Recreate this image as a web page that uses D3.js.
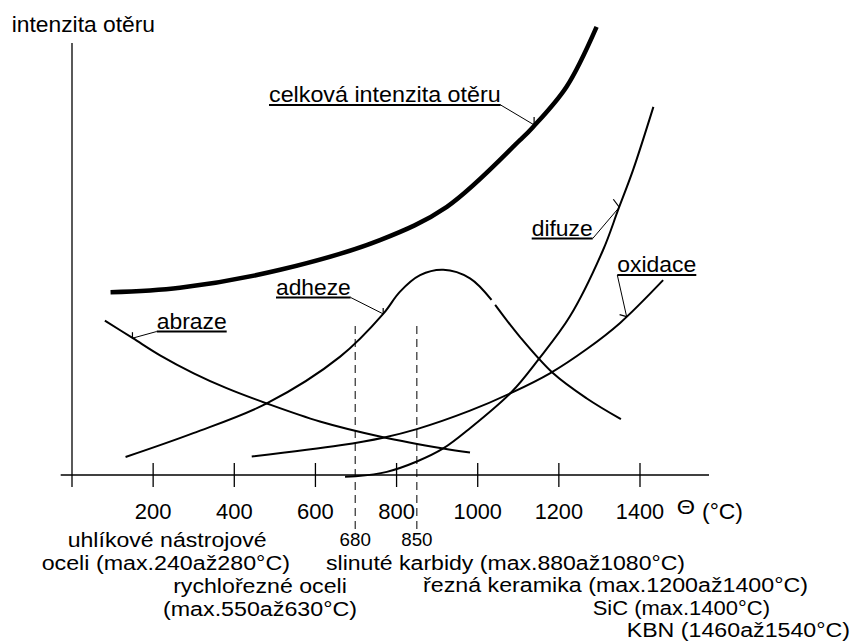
<!DOCTYPE html>
<html><head><meta charset="utf-8">
<script src="https://cdn.jsdelivr.net/npm/d3@7"></script>
<style>
body{margin:0;background:#fff}
svg{display:block}
text{font-family:"Liberation Sans",Arial,sans-serif;fill:#000}
</style>
</head><body>
<svg id="c" width="854" height="643"></svg>
<script>
// ---------- DATA (temperature °C, relative wear intensity) ----------
const xTickValues = [200, 400, 600, 800, 1000, 1200, 1400];
const xTickLabels = ["200", "400", "600", "800", "1000", "1200", "1400"];
const markerValues = [698, 850];
const markerLabels = ["680", "850"];

const celkova = [[95,40.6],[266,41.6],[513,45.6],[759,52.2],[924,59.6],[1104,74.4],[1136,77.3],[1219,86.3],[1293,99.6]];
const abraze  = [[81,34.3],[150,30.4],[217,26.6],[300,22.6],[381,19.3],[480,15.9],[611,11.9],[767,8.4],[915,5.9],[981,5.0]];
const adheze  = [[132,4.0],[299,9.3],[480,15.9],[661,26.3],[767,35.8],[808,40.7],[858,44.4],[915,45.6],[981,43.7],[1034,38.9],[1038,null],[1043,37.8],[1104,30.7],[1186,22.6],[1269,17.0],[1353,12.4]];
const difuze  = [[673,-0.4],[699,-0.3],[776,0.7],[850,3.0],[915,5.9],[981,10.4],[1084,18.5],[1149,25.6],[1227,35.2],[1309,50.0],[1346,58.9],[1383,67.8],[1433,81.8]];
const oxidace = [[443,4.1],[661,6.6],[767,8.3],[850,10.2],[981,14.3],[1084,18.3],[1178,22.6],[1269,28.0],[1351,33.8],[1457,43.3]];

const curveNames = ["celková intenzita otěru", "abraze", "adheze", "difuze", "oxidace"];
const curveSeries = [celkova, abraze, adheze, difuze, oxidace];
const labelAnchors = [[1139,77.8],[149,30.4],[767,35.8],[1349,59.5],[1367,35.2]];

const yAxisTitle = "intenzita otěru";
const materialLines = [
  "uhlíkové nástrojové",
  "oceli (max.240až280°C)",
  "rychlořezné oceli",
  "(max.550až630°C)",
  "slinuté karbidy (max.880až1080°C)",
  "řezná keramika (max.1200až1400°C)",
  "SiC (max.1400°C)",
  "KBN (1460až1540°C)"
];

// ---------- LAYOUT ----------
const svg = d3.select("#c");
const x = d3.scaleLinear().domain([0, 1400]).range([72, 640]);
const y = d3.scaleLinear().domain([0, 100]).range([475, 25]);

function txt(str, px, py, w, anchor, size) {
  const t = svg.append("text").attr("x", px).attr("y", py)
    .attr("font-size", size || 22).attr("text-anchor", anchor || "start").text(str);
  if (w) t.attr("textLength", w).attr("lengthAdjust", "spacingAndGlyphs");
  return t;
}

// axes
svg.append("line").attr("x1", x(0)).attr("x2", x(0)).attr("y1", y(96)).attr("y2", 487)
  .attr("stroke", "#000").attr("stroke-width", 1.3);
svg.append("line").attr("x1", 60.7).attr("x2", 709).attr("y1", y(0)).attr("y2", y(0))
  .attr("stroke", "#000").attr("stroke-width", 1.3);
xTickValues.forEach((v, i) => {
  svg.append("line").attr("x1", x(v)).attr("x2", x(v)).attr("y1", 463).attr("y2", 487)
    .attr("stroke", "#000").attr("stroke-width", 1.3);
  txt(xTickLabels[i], x(v), 518.5, xTickLabels[i].length === 3 ? 36.7 : 48.3, "middle");
});
txt("Θ", 676.7, 514, 18.3, "start", 20);
txt("(°C)", 702, 518.5, 41, "start");
txt(yAxisTitle, 11.7, 32.3, 143.3, "start");

// dashed markers
markerValues.forEach((v, i) => {
  svg.append("line").attr("x1", x(v)).attr("x2", x(v)).attr("y1", 326).attr("y2", 532)
    .attr("stroke", "#000").attr("stroke-width", 1).attr("stroke-dasharray", "8,5");
  txt(markerLabels[i], x(v), 546, 31.3, "middle", 19);
});

// curves
const line = d3.line().defined(d => d[1] !== null)
  .x(d => x(d[0])).y(d => y(d[1])).curve(d3.curveCatmullRom.alpha(0.5));
curveSeries.forEach((s, i) => {
  svg.append("path").attr("d", line(s)).attr("fill", "none").attr("stroke", "#000")
    .attr("stroke-width", i === 0 ? 4.5 : 2).attr("stroke-linecap", "butt");
});

// curve labels with leaders
const labelLayout = [
  {x: 269,   y: 102,   w: 231.7, side: "end",   tick: [0, -8]},
  {x: 156.7, y: 328.5, w: 70,    side: "start", tick: [0, -6]},
  {x: 276,   y: 294.5, w: 74.7,  side: "end",   tick: [0, -6]},
  {x: 531.7, y: 235.5, w: 61,    side: "end",   tick: [-6, -8]},
  {x: 617.3, y: 272,   w: 79,    side: "start", tick: [-7, -2]}
];
curveNames.forEach((name, i) => {
  const L = labelLayout[i];
  txt(name, L.x, L.y, L.w, "start");
  const uy = L.y + 3;
  svg.append("line").attr("x1", L.x).attr("x2", L.x + L.w).attr("y1", uy).attr("y2", uy)
    .attr("stroke", "#000").attr("stroke-width", 2);
  const sx = L.side === "end" ? L.x + L.w : L.x;
  const ax = x(labelAnchors[i][0]), ay = y(labelAnchors[i][1]);
  svg.append("line").attr("x1", sx).attr("y1", uy).attr("x2", ax).attr("y2", ay)
    .attr("stroke", "#000").attr("stroke-width", 1);
  svg.append("line").attr("x1", ax).attr("y1", ay).attr("x2", ax + L.tick[0]).attr("y2", ay + L.tick[1])
    .attr("stroke", "#000").attr("stroke-width", 1.2);
});

// material text block
const matLayout = [
  {x: 167.2, y: 546.7, w: 199,   a: "middle"},
  {x: 165.8, y: 570,   w: 248.3, a: "middle"},
  {x: 260,   y: 593,   w: 173.7, a: "middle"},
  {x: 260,   y: 616,   w: 194,   a: "middle"},
  {x: 326,   y: 569.5, w: 359,   a: "start"},
  {x: 423,   y: 591.5, w: 385,   a: "start"},
  {x: 592.7, y: 614.5, w: 177.3, a: "start"},
  {x: 626.7, y: 637,   w: 223.3, a: "start"}
];
materialLines.forEach((s, i) => {
  const L = matLayout[i];
  txt(s, L.x, L.y, L.w, L.a, 20);
});
</script>
</body></html>
